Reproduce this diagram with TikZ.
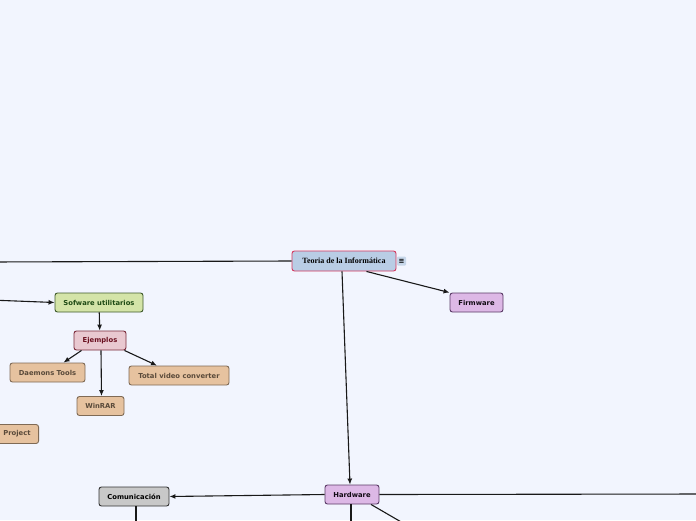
\documentclass[tikz,border=0pt]{standalone}
\usepackage{fontspec}
\setsansfont{DejaVu Sans}
\newfontfamily\titlefont{Liberation Serif}
\newfontfamily\symfont{DejaVu Sans}
\usetikzlibrary{arrows.meta, positioning, calc}

\definecolor{canvas}{HTML}{F2F5FE}
\definecolor{rootfill}{HTML}{B9CDE5}
\definecolor{rootline}{HTML}{D6375E}
\definecolor{hwfill}{HTML}{DDB8E6}
\definecolor{hwline}{HTML}{5A3A66}
\definecolor{swfill}{HTML}{D4E4A8}
\definecolor{swline}{HTML}{3E5A2A}
\definecolor{swtext}{HTML}{1E4A14}
\definecolor{exfill}{HTML}{E9C8D0}
\definecolor{exline}{HTML}{7A2A3A}
\definecolor{extext}{HTML}{6A1020}
\definecolor{appfill}{HTML}{E6C29F}
\definecolor{appline}{HTML}{7F6A55}
\definecolor{apptext}{HTML}{5A4A3A}
\definecolor{comfill}{HTML}{C8C8C8}
\definecolor{comline}{HTML}{333333}

\begin{document}
\begin{tikzpicture}[
    x=1pt, y=-1pt,
    font=\sffamily\bfseries\fontsize{6.8}{7.5}\selectfont,
    topic/.style={draw, rounded corners=2.5pt, line width=0.9pt, align=center, inner xsep=2pt, minimum height=19pt},
    roottopic/.style={topic, fill=rootfill, draw=rootline, font=\titlefont\bfseries\fontsize{8}{9}\selectfont, minimum height=20pt, minimum width=104pt},
    hwtopic/.style={topic, fill=hwfill, draw=hwline, text=black!80!hwline},
    swtopic/.style={topic, fill=swfill, draw=swline, text=swtext},
    extopic/.style={topic, fill=exfill, draw=exline, text=extext},
    apptopic/.style={topic, fill=appfill, draw=appline, text=apptext},
    comtopic/.style={topic, fill=comfill, draw=comline, text=black},
    link/.style={line width=1.1pt, black!90},
    arrow/.style={link, -{Latex[length=6pt, width=5pt]}}
]
  \fill[canvas] (0,0) rectangle (696,520);
  \useasboundingbox (0,0) rectangle (696,520);
  \clip (0,0) rectangle (696,520);

  % main topics
  \node[roottopic] (teoria) at (344,261) {Teoria de la Informática};
  \node[fill=rootfill!80, inner sep=0pt, minimum size=9pt, rounded corners=1pt, font=\symfont\bfseries\fontsize{7}{7}\selectfont] (note) at (401.5,261) {≡};
  \node[hwtopic, minimum width=53pt] (firmware) at (476.5,302.5) {Firmware};
  \node[hwtopic, minimum width=54pt] (hardware) at (352,494.5) {Hardware};
  \node[comtopic, minimum width=70pt] (comunic) at (134,496.5) {Comunicación};

  % software branch
  \node[swtopic, minimum width=88pt] (sofware) at (99,302.5) {Sofware utilitarios};
  \node[extopic, minimum width=52pt] (ejemplos) at (100,340.5) {Ejemplos};
  \node[apptopic, minimum width=75pt] (daemons) at (47.5,372.5) {Daemons Tools};
  \node[apptopic, minimum width=100pt] (total) at (179,375.5) {Total video converter};
  \node[apptopic, minimum width=47pt] (winrar) at (100.5,406) {WinRAR};
  \node[apptopic, anchor=east, inner xsep=8pt] (project) at (39,434) {Project};

  % free ends off the canvas
  \coordinate (offwest) at (-10,262);
  \coordinate (offsoft) at (-10,300);
  \coordinate (offeast) at (706,494);
  \coordinate (offhw) at (351,530);
  \coordinate (offhwse) at (415,530);
  \coordinate (offcom) at (136,530);

  \draw[link] (teoria.west) -- (offwest);
  \draw[arrow] (teoria.south east) ++(-30pt,0) -- (firmware.north west);
  \draw[arrow] ($(teoria.south)+(-2,0)$) -- ($(hardware.north)+(-2,0)$);
  \draw[arrow] (offsoft) -- (sofware.west);

  \draw[arrow] (sofware) -- (ejemplos);
  \draw[arrow] (ejemplos.south west) ++(8pt,0) -- ($(daemons.north)+(16,0)$);
  \draw[arrow] (ejemplos.south) ++(1pt,0) -- ($(winrar.north)+(1,0)$);
  \draw[arrow] (ejemplos.south east) ++(-2pt,0) -- ($(total.north)+(-22,0)$);

  \draw[arrow] (hardware.west) -- (comunic.east);
  \draw[link] (hardware.east) -- (offeast);
  \draw[link] ($(hardware.south)+(-1,0)$) -- (offhw);
  \draw[link] ($(hardware.south)+(19,0)$) -- (offhwse);
  \draw[link] ($(comunic.south)+(2,0)$) -- (offcom);
\end{tikzpicture}
\end{document}
